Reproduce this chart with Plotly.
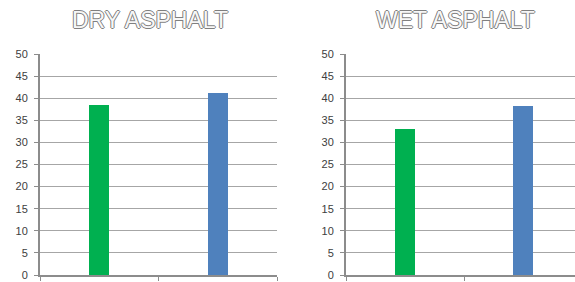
import plotly.graph_objects as go

# Data
groups = [0, 1]
bar_colors = ["#00b050", "#4f81bd"]
dry_values = [38.5, 41.2]
wet_values = [33.0, 38.3]
titles = ["DRY ASPHALT", "WET ASPHALT"]
y_ticks = [0, 5, 10, 15, 20, 25, 30, 35, 40, 45, 50]

W, H = 575, 282
fig = go.Figure()

fig.add_trace(go.Bar(x=groups, y=dry_values, marker=dict(color=bar_colors, line=dict(width=0)),
                     width=0.17, xaxis="x", yaxis="y", showlegend=False, hoverinfo="y"))
fig.add_trace(go.Bar(x=groups, y=wet_values, marker=dict(color=bar_colors, line=dict(width=0)),
                     width=0.17, xaxis="x2", yaxis="y2", showlegend=False, hoverinfo="y"))

y_bottom = 1 - 275 / H
y_top = 1 - 54 / H

common_x = dict(showgrid=False, zeroline=False, showline=True, linecolor="#8c8c8c", linewidth=2,
                tickvals=[-0.5, 0.5, 1.5], ticks="outside", ticklen=4, tickcolor="#8c8c8c",
                tickwidth=1, showticklabels=False, fixedrange=True, automargin=False)
common_y = dict(range=[0, 50], tickvals=y_ticks, showgrid=True, gridcolor="#a6a6a6", gridwidth=1,
                zeroline=False, showline=True, linecolor="#8c8c8c", linewidth=2,
                tickfont=dict(family="Liberation Sans, Arial", size=11, color="#404040"),
                ticks="outside", ticklen=4, tickcolor="#8c8c8c", tickwidth=1,
                ticklabelstandoff=4, domain=[y_bottom, y_top], automargin=False, fixedrange=True)

fig.update_layout(
    width=W, height=H,
    margin=dict(l=0, r=0, t=0, b=0, autoexpand=False),
    paper_bgcolor="white", plot_bgcolor="white",
    bargap=0,
    xaxis=dict(domain=[40 / W, 277 / W], range=[-0.5, 1.5], **common_x),
    yaxis=dict(anchor="x", **common_y),
    xaxis2=dict(domain=[346 / W, 1.0], range=[-0.5, -0.5 + 229 / 118], **common_x),
    yaxis2=dict(anchor="x2", **common_y),
)

outline = "1px 0 0 #7f7f7f, -1px 0 0 #7f7f7f, 0 1px 0 #7f7f7f, 0 -1px 0 #7f7f7f"
for t, cx in zip(titles, [150, 455]):
    fig.add_annotation(text=t, x=cx / W, y=1 - 19.5 / H, xref="paper", yref="paper",
                       xanchor="center", yanchor="middle", showarrow=False,
                       font=dict(family="Liberation Sans, Arial", size=23, color="#f7f7f7",
                                 shadow=outline))

fig.write_html("out.html", config={"displayModeBar": False},
               post_script="document.body.style.margin='0';document.body.style.overflow='hidden';")
